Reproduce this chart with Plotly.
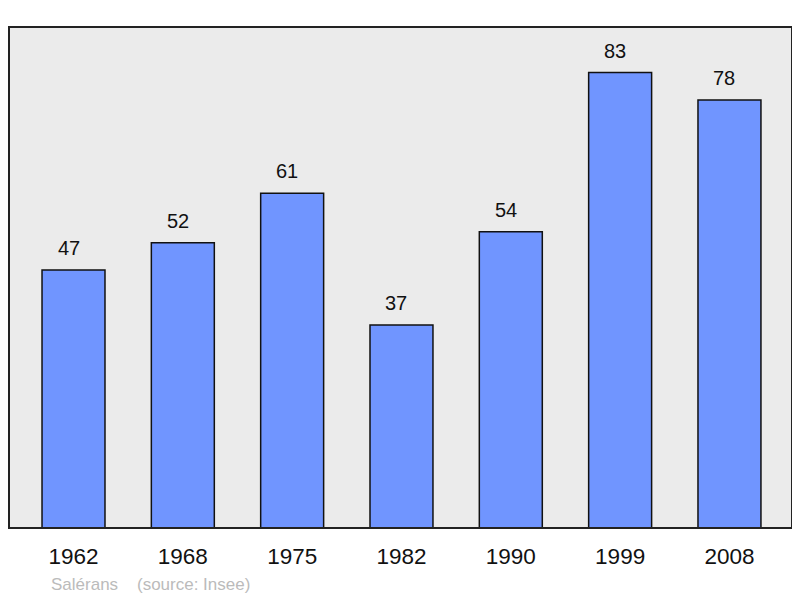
import plotly.graph_objects as go

years = ["1962", "1968", "1975", "1982", "1990", "1999", "2008"]
population = [47, 52, 61, 37, 54, 83, 78]
commune = "Salérans"
source_note = "(source: Insee)"

FONT = "Liberation Sans, Arial, sans-serif"

fig = go.Figure()
fig.add_trace(go.Bar(
    x=list(range(len(years))), y=population, width=0.576,
    marker=dict(color="#7095ff", line=dict(color="#111111", width=1.5)),
    hoverinfo="skip",
))

for i, v in enumerate(population):
    fig.add_annotation(x=i, y=v, text=str(v), showarrow=False, yanchor="bottom",
                       yshift=9, xshift=-5, font=dict(size=20, color="#111111", family=FONT))

fig.add_shape(type="rect", xref="paper", yref="paper", x0=0, y0=0, x1=1, y1=1,
              line=dict(color="#222222", width=2), layer="above")

fig.add_annotation(xref="paper", yref="paper", x=(49 - 9) / 783, y=-0.113, xanchor="left",
                   yanchor="middle", showarrow=False,
                   text=commune + "\u00a0\u00a0\u00a0\u00a0" + source_note,
                   font=dict(size=17, color="#bbbbbb", family=FONT))

# page body has an 8px margin, so shift the figure accordingly
fig.update_layout(
    width=792, height=590,
    margin=dict(l=1, r=8, t=19, b=70),
    paper_bgcolor="white", plot_bgcolor="#ebebeb",
    showlegend=False,
    xaxis=dict(range=[-0.59, 6.572], tickmode="array", tickvals=list(range(len(years))),
               ticktext=years, showgrid=False, zeroline=False, showline=False,
               ticks="outside", ticklen=8, tickcolor="rgba(0,0,0,0)",
               tickfont=dict(size=22.5, color="#111111", family=FONT)),
    yaxis=dict(range=[0, 91.3], showgrid=False, zeroline=False, showticklabels=False,
               showline=False),
)

fig.write_html("out.html")
